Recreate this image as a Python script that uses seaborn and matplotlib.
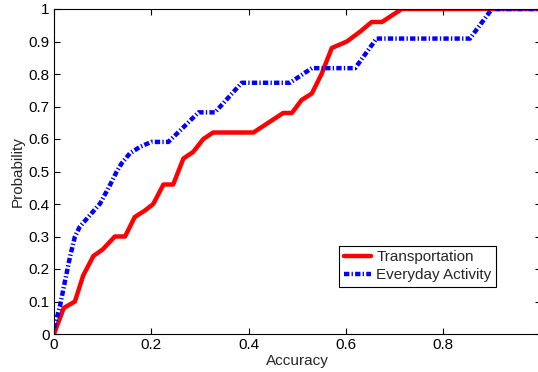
import matplotlib
matplotlib.use("Agg")
import matplotlib.pyplot as plt
import seaborn as sns
import pandas as pd

# Transportation curve (red)
trans_x = [0.0, 0.02, 0.043, 0.06, 0.081, 0.10, 0.125, 0.146, 0.166, 0.187, 0.204,
           0.225, 0.245, 0.266, 0.286, 0.307, 0.327, 0.41, 0.471, 0.489, 0.509,
           0.53, 0.55, 0.571, 0.602, 0.629, 0.653, 0.674, 0.715, 1.0]
trans_y = [0.0, 0.08, 0.10, 0.18, 0.24, 0.26, 0.30, 0.30, 0.36, 0.38, 0.40,
           0.46, 0.46, 0.54, 0.56, 0.60, 0.62, 0.62, 0.68, 0.68, 0.72,
           0.74, 0.80, 0.88, 0.90, 0.93, 0.96, 0.96, 1.0, 1.0]

# Everyday Activity curve (blue)
act_x = [0.0, 0.012, 0.023, 0.033, 0.043, 0.053, 0.074, 0.095, 0.115, 0.129, 0.139,
         0.156, 0.177, 0.2, 0.235, 0.266, 0.297, 0.331, 0.375, 0.386, 0.485,
         0.53, 0.619, 0.663, 0.855, 0.90, 1.0]
act_y = [0.018, 0.084, 0.166, 0.238, 0.30, 0.33, 0.366, 0.402, 0.458, 0.50, 0.525,
         0.556, 0.576, 0.591, 0.591, 0.636, 0.682, 0.682, 0.755, 0.773, 0.773,
         0.818, 0.818, 0.909, 0.909, 1.0, 1.0]

x_ticks = [0, 0.2, 0.4, 0.6, 0.8]
x_tick_labels = ["0", "0.2", "0.4", "0.6", "0.8"]
y_ticks = [0, 0.1, 0.2, 0.3, 0.4, 0.5, 0.6, 0.7, 0.8, 0.9, 1.0]
y_tick_labels = ["0", "0.1", "0.2", "0.3", "0.4", "0.5", "0.6", "0.7", "0.8", "0.9", "1"]

sns.set_style("ticks")
plt.rcParams['font.family'] = ['Liberation Sans', 'DejaVu Sans']

fig = plt.figure(figsize=(5.38, 3.72), dpi=100)
ax = fig.add_axes([54 / 538, 38 / 372, 486.5 / 538, 325 / 372])

df_t = pd.DataFrame({"Accuracy": trans_x, "Probability": trans_y})
df_a = pd.DataFrame({"Accuracy": act_x, "Probability": act_y})

sns.lineplot(data=df_t, x="Accuracy", y="Probability", ax=ax, color="#ff0000",
             linewidth=3.2, sort=False, estimator=None, label="Transportation")
sns.lineplot(data=df_a, x="Accuracy", y="Probability", ax=ax, color="#0000ff",
             linewidth=3.2, sort=False, estimator=None, label="Everyday Activity",
             dashes=False)
ax.lines[1].set_dashes((1.2, 0.5, 0.3, 0.5))

ax.set_xlim(0, 1)
ax.set_ylim(0, 1)
ax.set_xticks(x_ticks)
ax.set_xticklabels(x_tick_labels)
ax.set_yticks(y_ticks)
ax.set_yticklabels(y_tick_labels)
ax.tick_params(direction="in", top=True, right=True, labelsize=11, length=4,
               width=0.8, pad=3, colors="black")
for s in ax.spines.values():
    s.set_visible(True)
    s.set_linewidth(0.8)
    s.set_color("black")
ax.set_xlabel("Accuracy", fontsize=11, labelpad=1)
ax.set_ylabel("Probability", fontsize=11, labelpad=3)

leg = ax.legend(loc="lower right", bbox_to_anchor=(0.909, 0.145), fontsize=11,
                frameon=True, fancybox=False, edgecolor="black", framealpha=1,
                handlelength=1.8, handletextpad=0.35, borderpad=0.3,
                labelspacing=0.25, borderaxespad=0)
leg.get_frame().set_linewidth(0.8)
leg.get_lines()[1].set_dashes((1.2, 0.5, 0.3, 0.5))

fig.savefig("out.png", dpi=100)
